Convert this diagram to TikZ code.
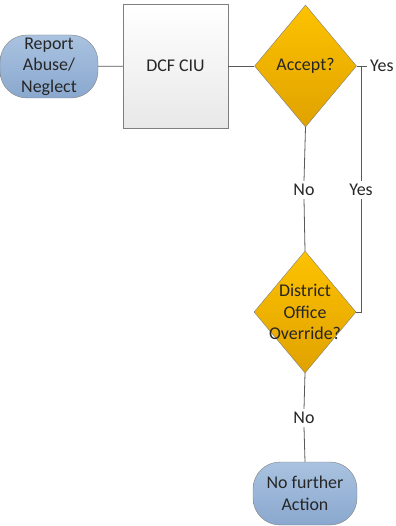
\documentclass[tikz,border=0pt]{standalone}
\usepackage{fontspec}
\setmainfont{Carlito}
\usetikzlibrary{shapes.geometric}

\definecolor{linegray}{HTML}{595959}
\definecolor{edgegray}{HTML}{7F7F7F}
\definecolor{bluetop}{HTML}{A9C2E0}
\definecolor{bluebot}{HTML}{8AA8CE}
\definecolor{goldtop}{HTML}{FDC200}
\definecolor{goldbot}{HTML}{E0A200}
\definecolor{inktext}{HTML}{262626}

\begin{document}
\begin{tikzpicture} [x=1bp, y=-1bp,
  every node/.style={font=\fontsize{18}{21.5}\selectfont, text=inktext},
  terminal/.style={draw=edgegray, rounded corners=27bp, top color=bluetop, bottom color=bluebot, minimum width=98bp, minimum height=63bp, inner sep=0, align=center},
  process/.style={draw=edgegray, top color=white, bottom color=black!9, minimum width=105bp, minimum height=124bp, inner sep=0},
  decision/.style={diamond, draw=edgegray, top color=goldtop, bottom color=goldbot, minimum width=102bp, minimum height=122bp, inner sep=0},
  answer/.style={inner sep=3bp},
  link/.style={draw=linegray, line width=0.8bp}]

\useasboundingbox (0,0) rectangle (395,526);

% shapes
\node [terminal] (report) at (49,66.5) {Report\\Abuse/\\Neglect};
\node [process] (ciu) at (175.5,66) {DCF CIU};
\node [decision] (accept) at (305.5,66) {Accept?};
\node [decision, label={[align=center]center:District\\Office\\Override?}] (override) at (305,312) {};
\node [terminal, minimum width=104bp] (done) at (305,493.5) {No further\\Action};

% answers
\node [answer, anchor=west] (yesA) at (367,66) {Yes};
\node [answer] (noA) at (304,190) {No};
\node [answer] (yesB) at (361,190) {Yes};
\node [answer] (noB) at (304,418) {No};

\coordinate (split) at (361,66);
\coordinate (back) at (361,312);

% connectors
\draw [link] (report) -- (ciu);
\draw [link] (ciu) -- (accept);
\draw [link] (accept.east) -- (yesA.west);
\draw [link] (accept.south) -- (noA.north);
\draw [link] (noA.south) -- (override.north);
\draw [link] (split) -- (yesB.north);
\draw [link] (yesB.south) -- (back) -- (override.east);
\draw [link] (override.south) -- (noB.north);
\draw [link] (noB.south) -- (done.north);

\end{tikzpicture}
\end{document}
